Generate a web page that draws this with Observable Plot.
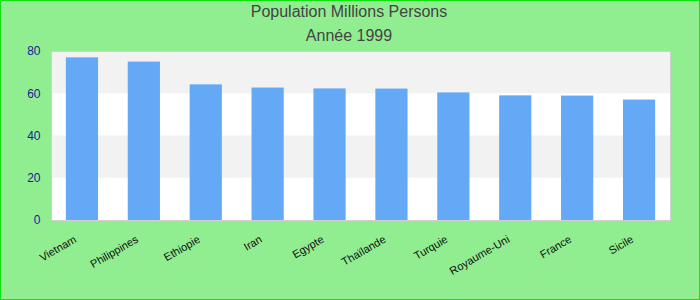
<!DOCTYPE html>
<html>
<head>
<meta charset="utf-8">
<script src="https://cdn.jsdelivr.net/npm/d3@7"></script>
<script src="https://cdn.jsdelivr.net/npm/@observablehq/plot@0.6"></script>
<style>
  html, body { margin: 0; padding: 0; }
  #wrap { position: relative; width: 700px; height: 300px; background: #90ee90; overflow: hidden; font-family: "Liberation Sans", Arial, sans-serif; }
  #wrap::after { content: ""; position: absolute; inset: 0; border: 1px solid #11e011; pointer-events: none; }
  .title { position: absolute; left: 0; width: 698px; text-align: center; color: #444; font-size: 16px; line-height: 1; }
  #t1 { top: 4px; }
  #t2 { top: 28px; }
  #chart { position: absolute; left: 0; top: 0; }
</style>
</head>
<body>
<div id="wrap">
  <div class="title" id="t1">Population Millions Persons</div>
  <div class="title" id="t2">Année 1999</div>
  <div id="chart"></div>
</div>
<script>
const countries = ["Vietnam", "Philippines", "Ethiopie", "Iran", "Egypte", "Thaïlande", "Turquie", "Royaume-Uni", "France", "Sicile"];
const population = [77.0, 75.0, 64.2, 62.7, 62.3, 62.2, 60.4, 59.0, 58.9, 57.0];
const yTicks = [0, 20, 40, 60, 80];
const bandStarts = [20, 60];
const bandEnds = [40, 80];

const data = countries.map((c, i) => ({country: c, value: population[i]}));
const bands = bandStarts.map((s, i) => ({y1: s, y2: bandEnds[i]}));

const chart = Plot.plot({
  width: 700,
  height: 300,
  marginTop: 51,
  marginBottom: 80,
  marginLeft: 51,
  marginRight: 30,
  style: {background: "transparent", fontFamily: "Liberation Sans, Arial, sans-serif"},
  x: {domain: countries, paddingInner: 0.48, paddingOuter: 0.24, round: false, label: null},
  y: {domain: [0, 80], label: null},
  marks: [
    Plot.frame({fill: "white", stroke: null}),
    Plot.rect(bands, {y1: "y1", y2: "y2", fill: "#f2f2f2"}),
    Plot.barY(data, {x: "country", y: "value", fill: "#63a9f5"}),
    Plot.frame({stroke: "#d0d0d0", strokeWidth: 1}),
    Plot.axisY({ticks: yTicks, tickSize: 0, tickPadding: 11, fontSize: 12, color: "#1a1a9a", label: null}),
    Plot.axisX({tickSize: 0, tickPadding: 8, tickRotate: -30, fontSize: 11, color: "#111", dx: -7, dy: 10, label: null})
  ]
});
document.getElementById("chart").appendChild(chart);
</script>
</body>
</html>
